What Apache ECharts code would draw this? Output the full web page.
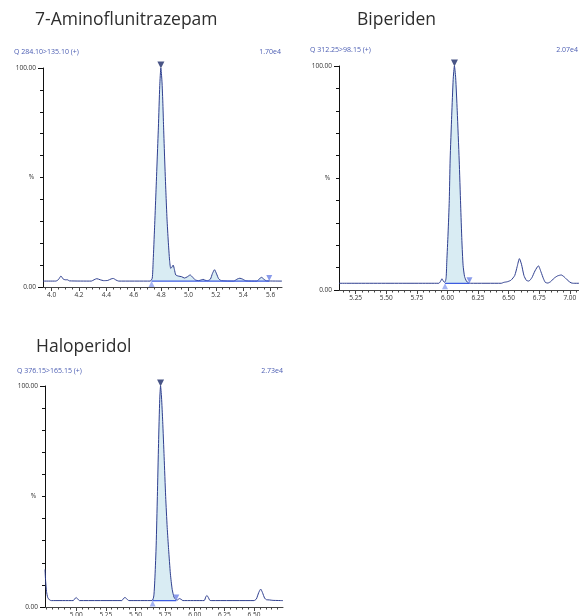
<!DOCTYPE html>
<html><head><meta charset="utf-8">
<script src="https://cdn.jsdelivr.net/npm/echarts@6/dist/echarts.min.js"></script>
<style>html,body{margin:0;padding:0;background:#fff}#c{width:579px;height:616px}</style>
</head><body><div id="c"></div>
<script>
// ---------- data ----------
const compoundNames = ['7-Aminoflunitrazepam', 'Biperiden', 'Haloperidol'];
const transitions = ['Q 284.10>135.10 (+)', 'Q 312.25>98.15 (+)', 'Q 376.15>165.15 (+)'];
const maxIntensities = ['1.70e4', '2.07e4', '2.73e4'];
const xRanges = [[3.937, 5.683], [5.114, 7.075], [4.737, 6.745]];
const xTickLabels1 = [4.0, 4.2, 4.4, 4.6, 4.8, 5.0, 5.2, 5.4, 5.6];
const xTickLabels2 = [5.25, 5.50, 5.75, 6.00, 6.25, 6.50, 6.75, 7.00];
const xTickLabels3 = [5.00, 5.25, 5.50, 5.75, 6.00, 6.25, 6.50];
const yTickLabels = [0, 100];

const trace1 = [[3.937,2.7],[4.03,2.7],[4.05,3.4],[4.068,5.0],[4.085,3.6],[4.10,3.3],[4.115,3.3],[4.13,2.8],[4.29,2.7],[4.31,3.3],[4.33,3.8],[4.355,3.3],[4.38,2.9],[4.41,3.0],[4.435,3.7],[4.45,3.9],[4.47,3.2],[4.49,2.7],[4.72,2.7],[4.735,4],[4.742,12],[4.752,27],[4.762,43],[4.771,58],[4.78,73],[4.79,92],[4.798,100],[4.806,94],[4.812,85],[4.818,73],[4.826,58],[4.835,43],[4.843,31],[4.852,21],[4.862,12],[4.87,8.5],[4.878,9],[4.888,10],[4.897,8],[4.907,5.5],[4.925,5.0],[4.95,4.7],[4.97,4.1],[4.99,4.6],[5.012,5.5],[5.03,4.5],[5.05,3.2],[5.075,2.9],[5.095,3.3],[5.107,3.5],[5.12,3.1],[5.14,2.9],[5.16,3.6],[5.175,6.2],[5.19,7.9],[5.205,6.0],[5.22,3.8],[5.24,2.9],[5.33,2.7],[5.355,3.6],[5.375,4.0],[5.395,3.6],[5.42,2.8],[5.50,2.7],[5.515,3.6],[5.534,4.4],[5.55,3.6],[5.57,2.8],[5.683,2.7]];
const trace2 = [[5.114,3],[5.93,3],[5.945,4.0],[5.955,5.0],[5.966,4.0],[5.976,3.4],[5.985,4.2],[5.99,6],[5.995,13],[6.005,25],[6.015,40],[6.022,58],[6.035,78],[6.047,94],[6.057,100],[6.067,95],[6.08,80],[6.096,58],[6.108,38],[6.118,22],[6.128,11],[6.14,6],[6.155,4],[6.17,3.2],[6.19,3.0],[6.44,3.0],[6.46,3.4],[6.49,3.7],[6.52,4.4],[6.55,6.5],[6.57,10.5],[6.588,14],[6.605,11.5],[6.625,6.5],[6.645,4.3],[6.665,4.0],[6.69,5.5],[6.715,8.5],[6.743,10.8],[6.765,8],[6.785,5],[6.80,3.4],[6.82,3.1],[6.845,3.8],[6.87,5.2],[6.90,6.3],[6.93,6.7],[6.955,5.8],[6.985,4.2],[7.01,3.2],[7.03,3.0],[7.075,3.0]];
const trace3 = [[4.737,17],[4.742,12],[4.75,7],[4.76,4.3],[4.775,3.2],[4.79,2.9],[4.975,2.9],[4.988,3.7],[5.0,4.3],[5.013,3.6],[5.028,2.9],[5.385,2.9],[5.398,3.8],[5.412,4.3],[5.428,3.6],[5.445,2.9],[5.64,2.9],[5.655,5],[5.665,14],[5.675,28],[5.685,50],[5.695,74],[5.705,94],[5.712,100],[5.72,95],[5.73,84],[5.742,68],[5.755,50],[5.768,36],[5.78,26],[5.795,15],[5.81,8],[5.825,4.5],[5.84,3.4],[5.855,3.2],[5.87,3.8],[5.885,3.5],[5.9,2.9],[6.08,2.9],[6.093,4.5],[6.103,5.2],[6.115,4.3],[6.128,3.0],[6.145,2.9],[6.5,2.9],[6.52,3.6],[6.54,6.5],[6.557,8.1],[6.572,6.5],[6.59,4.0],[6.605,3.3],[6.63,3.2],[6.66,3.0],[6.745,2.9]];

const peakStart = [4.73, 5.98, 5.645];
const peakApex = [4.798, 6.057, 5.712];
const peakEnd = [5.59, 6.18, 5.845];
const peakBaseline = [2.7, 3.0, 2.9];

// ---------- layout / style ----------
const traces = [trace1, trace2, trace3];
const xTickSets = [xTickLabels1, xTickLabels2, xTickLabels3];
const decimals = [1, 2, 2];
const grids = [
  {left: 43, top: 68, width: 239, height: 219, outerBoundsMode: 'none', containLabel: false},
  {left: 339, top: 66, width: 240, height: 224, outerBoundsMode: 'none', containLabel: false},
  {left: 45, top: 386, width: 238, height: 221, outerBoundsMode: 'none', containLabel: false}
];
const FONT = 'Open Sans';
const TRACE = '#2f3f8f', FILL = '#d9ecf3', BASE = '#3d5ce0';

function interp(tr, t) {
  for (let i = 1; i < tr.length; i++) {
    if (tr[i][0] >= t) {
      const a = tr[i-1], b = tr[i];
      return a[1] + (b[1]-a[1]) * (t - a[0]) / (b[0]-a[0]);
    }
  }
  return tr[tr.length-1][1];
}
function minorTicks(r) {
  const out = [];
  const s = Math.ceil(r[0] / 0.05 - 1e-9);
  for (let k = s; k * 0.05 <= r[1] + 1e-9; k++) out.push(+(k * 0.05).toFixed(2));
  return out;
}

const title = [];
const headerPos = [
  {tl: 35, tt: 11, ql: 14, qt: 48, ir: 298},
  {tl: 357, tt: 11, ql: 310, qt: 46, ir: 1},
  {tl: 36, tt: 338, ql: 17, qt: 367, ir: 296}
];
const xAxis = [], yAxis = [], series = [];
for (let k = 0; k < 3; k++) {
  const h = headerPos[k];
  title.push({text: compoundNames[k], left: h.tl, top: h.tt, padding: 0,
    textStyle: {fontFamily: FONT, fontSize: 17.5, fontWeight: 'normal', color: '#2e2e2e'}});
  title.push({text: transitions[k], left: h.ql, top: h.qt, padding: 0,
    textStyle: {fontFamily: FONT, fontSize: 7, fontWeight: 'normal', color: '#4a5cb2'}});
  title.push({text: maxIntensities[k], right: h.ir, top: h.qt, padding: 0,
    textStyle: {fontFamily: FONT, fontSize: 7, fontWeight: 'normal', color: '#4a5cb2'}});

  const r = xRanges[k];
  const d = decimals[k];
  xAxis.push({type: 'value', gridIndex: k, min: r[0], max: r[1], position: 'bottom',
    axisLine: {show: true, onZero: false, lineStyle: {color: '#444', width: 1}},
    axisTick: {show: true, length: 4, customValues: xTickSets[k], lineStyle: {color: '#444'}},
    axisLabel: {customValues: xTickSets[k], formatter: v => v.toFixed(d), fontFamily: FONT,
      fontSize: 6.5, color: '#333', margin: 5},
    splitLine: {show: false}});
  xAxis.push({type: 'value', gridIndex: k, min: r[0], max: r[1], position: 'bottom', offset: 0,
    axisLine: {show: false},
    axisTick: {show: true, length: 2.5, customValues: minorTicks(r), lineStyle: {color: '#444'}},
    axisLabel: {show: false}, splitLine: {show: false}});
  yAxis.push({type: 'value', gridIndex: k, min: 0, max: 100, position: 'left',
    axisLine: {show: true, onZero: false, lineStyle: {color: '#111', width: 1}},
    axisTick: {show: true, length: 5, customValues: yTickLabels, lineStyle: {color: '#111'}},
    axisLabel: {customValues: yTickLabels, formatter: v => v.toFixed(2), fontFamily: FONT,
      fontSize: 6.5, color: '#333', margin: 7},
    name: '%', nameLocation: 'middle', nameRotate: 0, nameGap: 9, nameMoveOverlap: false,
    nameTextStyle: {fontFamily: FONT, fontSize: 6.5, color: '#333', align: 'right', verticalAlign: 'middle'},
    splitLine: {show: false}});
  yAxis.push({type: 'value', gridIndex: k, min: 0, max: 100, position: 'left', offset: 0,
    axisLine: {show: false},
    axisTick: {show: true, length: 3, customValues: [10,20,30,40,50,60,70,80,90], lineStyle: {color: '#111'}},
    axisLabel: {show: false}, splitLine: {show: false}});

  const tr = traces[k];
  const xi = 2 * k, yi = 2 * k;
  const s = peakStart[k], e = peakEnd[k], b = peakBaseline[k];
  const fillData = [[s, interp(tr, s)]].concat(tr.filter(p => p[0] > s && p[0] < e), [[e, interp(tr, e)]]);
  series.push({type: 'line', xAxisIndex: xi, yAxisIndex: yi, data: fillData, smooth: 0.2,
    symbol: 'none', silent: true, lineStyle: {width: 0},
    areaStyle: {color: FILL, opacity: 1, origin: b}, z: 1});
  series.push({type: 'line', xAxisIndex: xi, yAxisIndex: yi, data: tr, smooth: 0.2,
    symbol: 'none', silent: true, lineStyle: {color: TRACE, width: 1}, z: 2});
  series.push({type: 'line', xAxisIndex: xi, yAxisIndex: yi, data: [[s, b], [e, b]],
    symbol: 'none', silent: true, lineStyle: {color: BASE, width: 1.2}, z: 3});
  series.push({type: 'scatter', xAxisIndex: xi, yAxisIndex: yi, data: [[s, b]], symbol: 'triangle',
    symbolSize: [6, 6], symbolOffset: [0, 3], itemStyle: {color: '#8ea1f0'}, silent: true, z: 4});
  series.push({type: 'scatter', xAxisIndex: xi, yAxisIndex: yi, data: [[e, b]], symbol: 'triangle',
    symbolRotate: 180, symbolSize: [6, 6], symbolOffset: [0, -3], itemStyle: {color: '#6c82e6'}, silent: true, z: 4});
  series.push({type: 'scatter', xAxisIndex: xi, yAxisIndex: yi, data: [[peakApex[k], interp(tr, peakApex[k])]],
    symbol: 'triangle', symbolRotate: 180, symbolSize: [7, 7], symbolOffset: [0, -3],
    itemStyle: {color: '#1c2a68'}, silent: true, z: 5});
}

const chart = echarts.init(document.getElementById('c'), null, {renderer: 'canvas'});
chart.setOption({animation: false, backgroundColor: '#fff', title, grid: grids, xAxis, yAxis, series});
</script></body></html>
